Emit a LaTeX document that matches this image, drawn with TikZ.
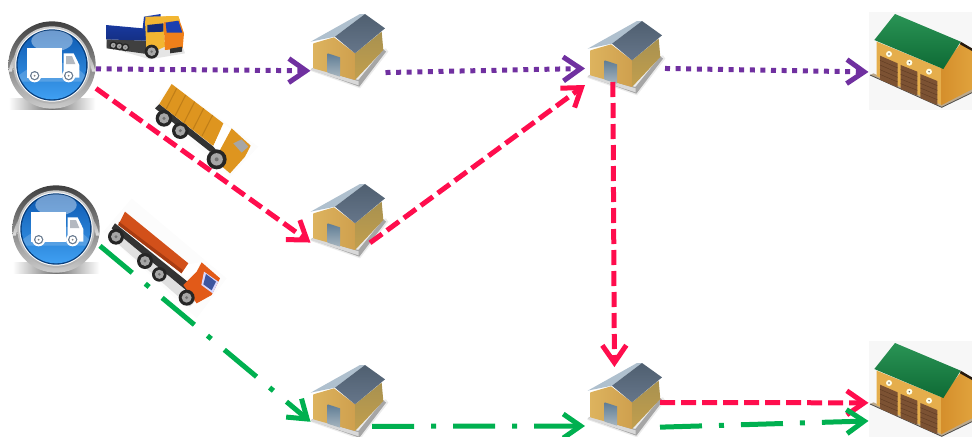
\documentclass[tikz,border=0pt]{standalone}
\usetikzlibrary{arrows.meta}
\definecolor{routepurple}{HTML}{7030A0}
\definecolor{routered}{HTML}{FF0D4D}
\definecolor{routegreen}{HTML}{00B050}
\definecolor{wallfrontL}{HTML}{DDB35E}
\definecolor{wallfrontR}{HTML}{CFA04E}
\definecolor{wallsideT}{HTML}{A8914F}
\definecolor{wallsideB}{HTML}{C29F4E}
\definecolor{roofdarkT}{HTML}{4F5F70}
\definecolor{roofdarkB}{HTML}{66768A}
\definecolor{rooflight}{HTML}{AFC0CE}
\definecolor{doorT}{HTML}{5F7C94}
\definecolor{doorB}{HTML}{A6B5BF}
\definecolor{depotbase}{HTML}{BCA98C}
\definecolor{depotfront}{HTML}{E5AE4C}
\definecolor{depotsideL}{HTML}{D58F2C}
\definecolor{depotsideR}{HTML}{E0A23C}
\definecolor{depotroofT}{HTML}{2A9455}
\definecolor{depotroofB}{HTML}{0E6A35}
\definecolor{depotdoor}{HTML}{7C5233}
\definecolor{depotdoorline}{HTML}{5E3B22}
\definecolor{discT}{HTML}{0C58B0}
\definecolor{discB}{HTML}{3FA0F2}
\definecolor{truckbedblue}{HTML}{1B3FB0}
\definecolor{truckcabyellow}{HTML}{F2B632}
\definecolor{truckcaborange}{HTML}{F0801A}
\definecolor{dumporange}{HTML}{DE951F}
\definecolor{dumporangedark}{HTML}{C07E18}
\definecolor{trailerred}{HTML}{D2501A}
\definecolor{trailerreddark}{HTML}{A83C12}
\definecolor{cabred}{HTML}{E25A18}
\newcommand\truckwheel[3]{%
  \fill[black!85] (#1,#2) circle[radius=#3];
  \fill[black!35] (#1,#2) circle[radius=0.62*#3];
  \fill[black!55] (#1,#2) circle[radius=0.2*#3];}
\tikzset{
  hub/.style={inner sep=0pt,outer sep=0pt,minimum width=56.25pt,minimum height=55.5pt},
  hubwide/.style={hub,minimum width=60pt},
  depotbox/.style={inner sep=0pt,outer sep=0pt,minimum width=77.25pt,minimum height=73.5pt},
  badgebox/.style={inner sep=0pt,outer sep=0pt,minimum width=66pt,minimum height=66pt},
  route/.style={line width=3.75pt,line cap=butt,
    -{Straight Barb[length=13pt,width=18pt,line width=3.75pt,sharp]}},
  purpleroute/.style={route,draw=routepurple,dash pattern=on 3.75pt off 4.2pt},
  redroute/.style={route,draw=routered,dash pattern=on 11.25pt off 4.5pt},
  greenroute/.style={route,draw=routegreen,dash pattern=on 31.5pt off 12.75pt on 3.75pt off 12.75pt},
  housepic/.pic={
    \begin{scope}[x=.25pt,y=-.25pt,shift={(-204,-150)}]
      \fill[black!8] (90,212)--(240,265)--(325,155)--(318,145)--cycle;
      \fill[black!35] (92,208)--(238,260)--(318,155)--(310,148)--(235,240)--(100,203)--cycle;
      \fill[black!15] (92,210)--(236,256)--(236,244)--(100,203)--cycle;
      \shade[left color=wallfrontL,right color=wallfrontR] (100,130)--(162,112)--(225,160)--(225,240)--(100,205)--cycle;
      \shade[top color=wallsideT,bottom color=wallsideB] (225,160)--(305,95)--(310,150)--(225,240)--cycle;
      \fill[rooflight] (92,125)--(240,42)--(255,42)--(165,110)--cycle;
      \shade[top color=roofdarkT,bottom color=roofdarkB] (165,110)--(255,42)--(315,85)--(225,160)--cycle;
      \shade[top color=doorT,bottom color=doorB] (143,160)--(180,172)--(180,230)--(143,218)--cycle;
    \end{scope}
  },
  depotpic/.pic={
    \begin{scope}[x=.25pt,y=-.25pt,shift={(-240,-183)}]
      \fill[black!3] (88,35) rectangle (396,330);
      \fill[depotbase] (90,225)--(305,322)--(396,278)--(396,266)--(305,312)--(100,220)--cycle;
      \draw[black!70,line width=.6pt] (90,225)--(305,322)--(396,278);
      \fill[depotfront] (110,125)--(110,228)--(305,315)--(305,205)--cycle;
      \shade[left color=depotsideL,right color=depotsideR] (305,205)--(362,130)--(396,150)--(396,268)--(305,315)--cycle;
      \fill[black!80!brown] (362,125)--(396,145)--(396,153)--(360,133)--cycle;
      \shade[shading angle=25,top color=depotroofT,bottom color=depotroofB] (165,42)--(362,125)--(310,207)--(103,120)--cycle;
      \foreach \a/\b/\c/\d in {120/167/173/190,182/195/232/215,241/222/292/243}{
        \fill[depotdoor] (\a,\b)--(\c,\d)--(\c,\d+72)--(\a,\b+72)--cycle;
        \foreach \k in {14,28,42,56}
          \draw[depotdoorline,line width=.3pt] (\a,\b+\k)--(\c,\d+\k);
      }
      \foreach \a/\b in {147/162,208/188,267/215}{
        \fill[white!90!yellow] (\a,\b) circle[radius=9];
        \fill[black!60] (\a,\b) circle[radius=2.5];
      }
    \end{scope}
  },
  badgepic/.pic={
    \begin{scope}[x=.25pt,y=-.25pt]
      \shade[left color=white,right color=white,middle color=black!55] (-130,100) rectangle (130,133);
      \shade[top color=black!75,bottom color=black!20] (0,0) circle[radius=131];
      \shade[top color=black!70,bottom color=black!12] (-130,20) arc[start angle=189,end angle=351,radius=131.5] -- (120,20) arc[start angle=350,end angle=190,radius=122]--cycle;
      \shade[top color=black!20,bottom color=black!30] (0,0) circle[radius=116];
      \fill[white] (0,0) circle[radius=110];
      \fill[discT!70!black] (0,0) circle[radius=107];
      \shade[top color=discT,bottom color=discB] (0,0) circle[radius=103];
      \fill[white,opacity=.4] (0,-72) ellipse[x radius=62,y radius=32];
      \fill[white,opacity=.18] (-100,32) .. controls (-30,-30) and (60,-15) .. (100,32) -- (90,50) -- (-90,50) -- cycle;
      \fill[white] (-75,-50) rectangle (30,38);
      \fill[white] (35,-35)--(65,-35)--(82,0)--(82,38)--(35,38)--cycle;
      \fill[discT!25!black!30] (42,-27)--(60,-27)--(70,-3)--(42,-3)--cycle;
      \foreach \a in {-52,50}{
        \fill[white] (\a,32) circle[radius=20];
        \fill[discT!40!black!60] (\a,32) circle[radius=14];
        \fill[white] (\a,32) circle[radius=10];
        \fill[black!50] (\a,32) circle[radius=3];
      }
    \end{scope}
  },
  bluetruckpic/.pic={
    \begin{scope}[x=.25pt,y=-.25pt]
      \fill[black!10] (318,140)--(450,178)--(555,160)--(550,145)--(320,125)--cycle;
      \fill[black!75] (320,118)--(440,122)--(440,162)--(320,145)--cycle;
      \shade[top color=truckbedblue,bottom color=truckbedblue!75!black] (318,75)--(428,85)--(432,50)--(482,42)--(482,52)--(440,122)--(318,118)--cycle;
      \truckwheel{340}{136}{12}\truckwheel{358}{139}{12}\truckwheel{376}{142}{12}
      \fill[truckcabyellow] (435,62)--(490,50)--(495,140)--(440,165)--cycle;
      \fill[truckcaborange] (490,50)--(535,50)--(552,100)--(548,145)--(495,150)--cycle;
      \fill[truckcabyellow] (436,50)--(535,48)--(540,62)--(436,72)--cycle;
      \fill[truckbedblue!70!black] (442,75)--(490,70)--(490,95)--(442,97)--cycle;
      \fill[truckbedblue] (497,68)--(535,62)--(547,98)--(500,98)--cycle;
      \fill[black!80] (510,146)--(546,140)--(546,155)--(510,160)--cycle;
      \truckwheel{455}{155}{21}
    \end{scope}
  },
  dumptruckpic/.pic={
    \begin{scope}[x=.25pt,y=-.25pt]
      \fill[black!1] (515,250)--(775,440)--(690,530)--(460,320)--cycle;
      \fill[black!80] (478,312)--(640,440)--(650,452)--(630,455)--(465,325)--cycle;
      \fill[dumporange] (515,252)--(670,370)--(640,438)--(478,312)--cycle;
      \foreach \k in {0,1,2,3,4}
        \draw[dumporangedark,line width=.8pt] (530+\k*27,265+\k*20)--(498+\k*27,328+\k*20);
      \fill[white] (672,372)--(695,388)--(660,450)--(640,438)--cycle;
      \fill[dumporange] (695,385)--(752,437)--(735,470)--(690,520)--(655,490)--(660,450)--cycle;
      \fill[black!35] (700,430)--(725,418)--(745,440)--(725,458)--cycle;
      \truckwheel{492}{355}{25}\truckwheel{541}{392}{25}\truckwheel{650}{478}{30}
    \end{scope}
  },
  trailerpic/.pic={
    \begin{scope}[x=.25pt,y=-.25pt]
      \fill[black!1] (395,70)--(680,310)--(590,430)--(310,170)--cycle;
      \fill[black!12] (345,165)--(590,375)--(570,395)--(335,190)--cycle;
      \fill[black!80] (345,145)--(600,350)--(585,368)--(335,160)--cycle;
      \fill[trailerred] (375,110)--(565,265)--(545,295)--(355,150)--cycle;
      \fill[trailerreddark] (357,140)--(548,285)--(545,295)--(355,150)--cycle;
      \fill[white] (565,268)--(600,262)--(590,290)--(555,310)--(545,296)--cycle;
      \fill[cabred] (605,262)--(660,310)--(635,360)--(590,385)--(550,330)--(590,290)--cycle;
      \fill[white!85!blue] (612,290)--(655,320)--(638,355)--(604,330)--cycle;
      \fill[truckbedblue!65!gray] (618,297)--(648,320)--(635,346)--(610,328)--cycle;
      \truckwheel{348}{185}{24}\truckwheel{435}{258}{24}\truckwheel{478}{298}{22}\truckwheel{560}{368}{24}
    \end{scope}
  }
}
\begin{document}
\begin{tikzpicture}[x=.75pt,y=-.75pt]
\useasboundingbox (0,0) rectangle (972,436);
\node[badgebox] (b1) at (52,65) {};
\node[badgebox] (b2) at (56,229) {};
\node[hub] (h1) at (348,50) {};
\node[hub] (h2) at (348,220) {};
\node[hubwide] (h3) at (625,57) {};
\node[hub] (h4) at (348,401) {};
\node[hubwide] (h5) at (625,399) {};
\node[depotbox] (d1) at (920,61) {};
\node[depotbox] (d2) at (920,390) {};
\pic at (b1) {badgepic};
\pic at (b2) {badgepic};
\pic at (h1) {housepic};
\pic at (h2) {housepic};
\pic at (h3) {housepic};
\pic at (h4) {housepic};
\pic at (h5) {housepic};
\pic at (d1) {depotpic};
\pic at (d2) {depotpic};
\pic at (0,0) {bluetruckpic};
\pic at (0,0) {dumptruckpic};
\pic at (0,175) {trailerpic};
\draw[purpleroute] (b1.-5) -- (h1.209.2);
\draw[purpleroute] (h1.-31.5) -- (h3.196.7);
\draw[purpleroute] (h3.-16.7) -- (d1.192);
\draw[redroute] (b1.-28.6) -- (h2.211.5);
\draw[redroute,shorten <=-14.4pt] (h2.-17.2) -- (h3.215);
\draw[redroute,shorten <=-9pt,shorten >=-3.75pt] (h3.252) -- (h5.106.6);
\draw[redroute,shorten <=-3.75pt] (h5.-5.7) -- (d2.194.2);
\draw[greenroute] (b2.-21.1) -- (h4.209.2);
\draw[greenroute,shorten <=-10pt] (h4.-34.7) -- (h5.214);
\draw[greenroute,shorten <=-3.75pt] (h5.-35) -- (d2.211.9);
\end{tikzpicture}
\end{document}
